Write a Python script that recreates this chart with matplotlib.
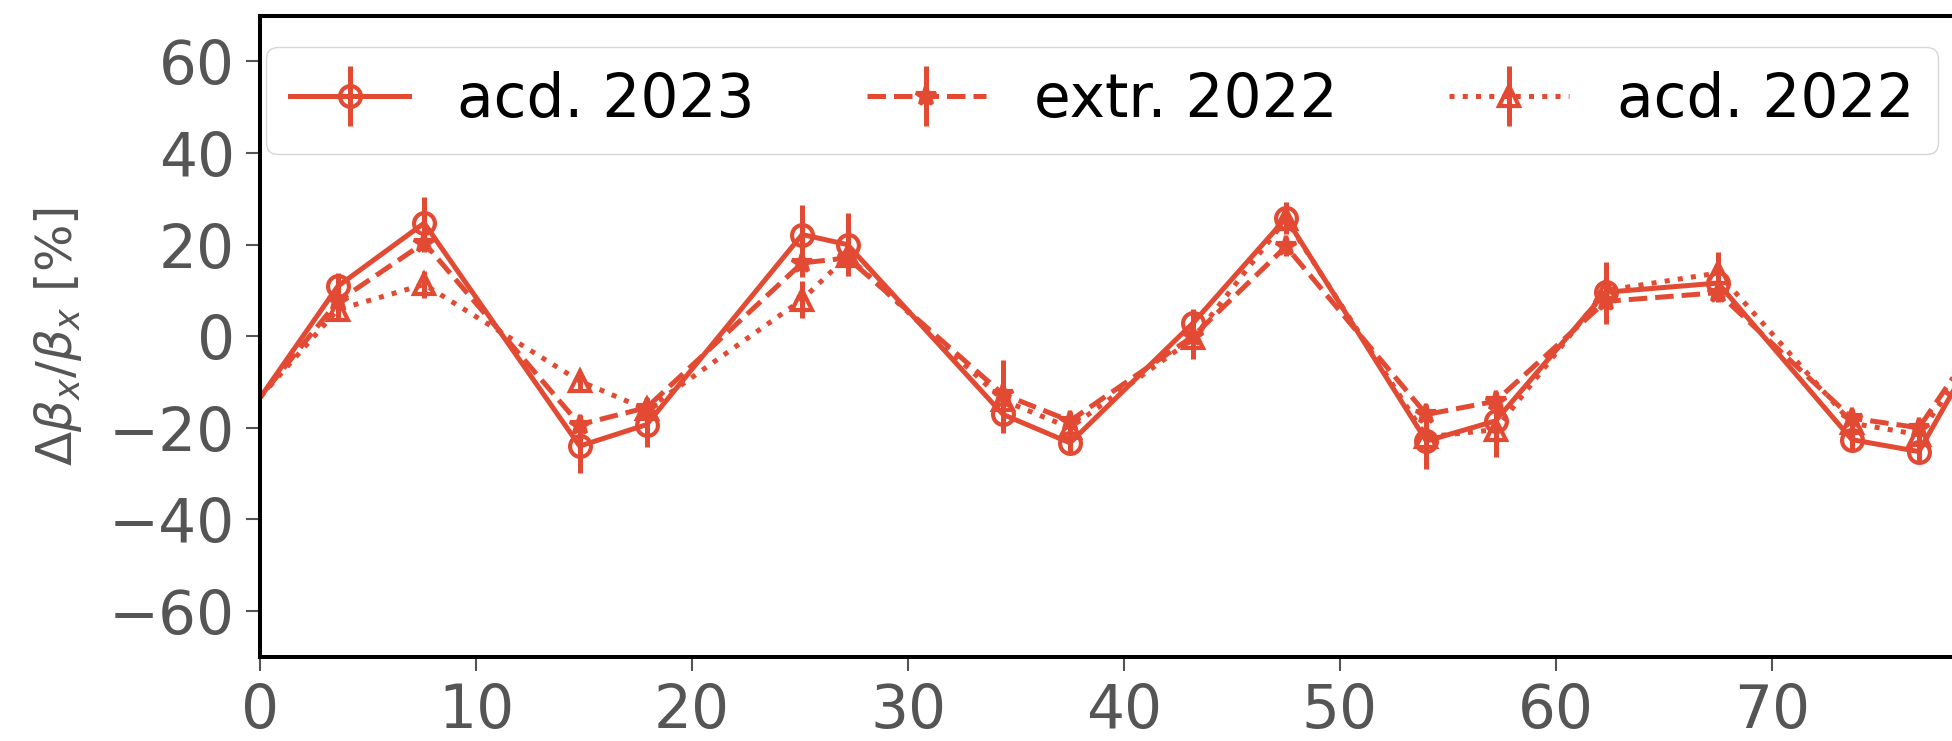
# beta-beat comparison plot
import numpy as np
import matplotlib
matplotlib.use('Agg')
import matplotlib.pyplot as plt

# positions of the monitors
s_pos = [-2, 3.6, 7.6, 14.8, 17.9, 25.1, 27.2, 34.4, 37.5, 43.2, 47.5, 54.0, 57.2, 62.3, 67.5, 73.7, 76.8, 82]

# acd. 2023
beat_acd23 = [-27, 10.9, 24.7, -24.0, -19.3, 22.2, 20.0, -17.1, -23.3, 2.9, 25.8, -22.9, -18.5, 9.6, 11.6, -22.6, -25.2, 18]
err_acd23 = [3, 3, 5.7, 5.8, 5, 6.5, 6.8, 4, 2.5, 3, 3.5, 6, 3, 6.5, 3, 2, 2, 3]

# extr. 2022
beat_extr22 = [-25, 7.6, 20.4, -19.3, -15.6, 16.0, 17.1, -12.7, -18.5, 0.0, 19.6, -17.1, -14.2, 7.6, 9.5, -17.9, -20.0, 16]
err_extr22 = [2, 2, 2, 2, 2, 3, 3, 7.4, 2, 5, 2, 2, 2, 5, 2, 2, 2, 2]

# acd. 2022
beat_acd22 = [-24, 5.8, 11.3, -9.8, -16.0, 8.0, 17.5, -14.0, -20.0, -0.5, 25.5, -22.0, -20.4, 10.0, 13.8, -19.0, -21.5, 14]
err_acd22 = [2, 2, 3, 2, 2, 4, 3, 3, 2, 3, 3, 2, 6, 3, 4.5, 2, 2, 2]

col = '#E24A33'
grey = '#555555'

fig = plt.figure(figsize=(19.52, 7.41), dpi=100)
ax = fig.add_axes([0.1332, 0.1138, 0.9295, 0.865])

kw = dict(color=col, lw=3.6, elinewidth=3.6, capsize=0, markersize=15, markeredgewidth=3)
ax.errorbar(s_pos, beat_acd23, yerr=err_acd23, fmt='o-', mfc='none', label='acd. 2023', **kw)
ax.errorbar(s_pos, beat_extr22, yerr=err_extr22, fmt='*--', label='extr. 2022', **kw)
ax.errorbar(s_pos, beat_acd22, yerr=err_acd22, fmt='^:', mfc='none', label='acd. 2022', **kw)

ax.set_xlim(0, 84)
ax.set_ylim(-70, 70)
ax.set_xticks(np.arange(0, 71, 10))
ax.set_yticks(np.arange(-60, 61, 20))
ax.tick_params(labelsize=43, colors=grey, length=10, width=1.5, pad=8, labelcolor=grey)
for sp in ax.spines.values():
    sp.set_linewidth(2.9)
    sp.set_color('black')

ax.set_ylabel(r'$\Delta\beta_x/\beta_x$ [%]', fontsize=36, color=grey)
ax.yaxis.set_label_coords(-0.097, 0.5)

ax.legend(ncol=3, mode='expand', loc='upper left', bbox_to_anchor=(0.0033, 0, 0.9215, 0.9512),
          borderaxespad=0, fontsize=43)

plt.savefig('out.png', dpi=100)
